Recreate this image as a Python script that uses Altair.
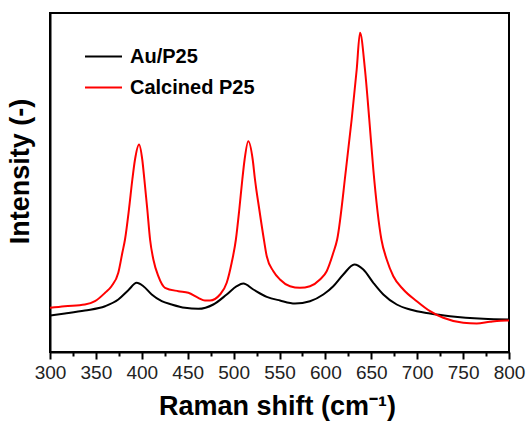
import altair as alt
import pandas as pd

# Au/P25 (black) -- intensity in arbitrary units
au_x = [300, 316.3, 338, 360, 374.4, 385.3, 394.4, 401.7, 410.8, 421.7, 432.6, 447, 461.5, 477.9,
        492.5, 503.4, 510.6, 521.5, 536.1, 550.5, 566.9, 583.2, 597.7, 608.6, 619.5, 631.5, 641.3,
        652.2, 663.1, 677.7, 692.2, 714, 735.7, 772, 800]
au_y = [36.5, 38.5, 41.5, 45.8, 52.5, 61.8, 69.2, 65.8, 57.5, 50.8, 47.5, 44.2, 43.2, 47.5,
        57.5, 65.8, 68.5, 62.5, 55.2, 51.5, 48.5, 50.8, 57.5, 65.8, 77.5, 87.5, 82.5,
        69.2, 57.5, 47.5, 42.5, 38.5, 35.8, 33.2, 32.5]

# Calcined P25 (red)
p25_x = [300, 316, 338, 349, 360, 367, 374.4, 378.8, 381.7, 386, 389.7, 392.6, 397, 400.5, 402.8,
         406, 409, 412.6, 418, 425.3, 439.8, 450.7, 461.5, 468.8, 474.3, 485.2, 492.5, 497.9, 502.5,
         506.2, 509.5, 512, 516, 520.8, 523.3, 528, 533, 536.1, 543.3, 550.5, 561.4, 572.3, 583.2,
         594.1, 601.4, 608.6, 612.8, 622.4, 628.6, 634.1, 637.7, 643.1, 647.8, 652.2, 661, 666.8,
         674, 684.9, 699.5, 714, 728.4, 750.2, 764.8, 779.3, 797.5, 800]
p25_y = [44.2, 45.8, 47.5, 50.8, 59.2, 65.8, 79.2, 99.2, 112.5, 142.5, 172.5, 192.5, 207.5, 192.5, 172.5,
         142.5, 112.5, 92.5, 75.8, 64.2, 60.8, 59.2, 54.2, 51.5, 51.5, 57.5, 69.2, 89.2, 112.5,
         142.5, 172.5, 192.5, 210.8, 192.5, 172.5, 142.5, 112.5, 95.8, 80.8, 72.5, 65.8, 64.2, 65.8,
         72.5, 80.8, 99.2, 112.5, 182.5, 232.5, 282.5, 319.2, 282.5, 232.5, 182.5, 112.5, 92.5,
         75.8, 62.5, 50.8, 40.8, 34.2, 29.2, 28.5, 30.2, 31.5, 31.5]

series_names = ["Au/P25", "Calcined P25"]
series_colors = ["#000000", "#ff0000"]
x_ticks = list(range(300, 801, 25))

df = pd.concat([
    pd.DataFrame({"shift": au_x, "intensity": au_y, "sample": series_names[0], "order": 0}),
    pd.DataFrame({"shift": p25_x, "intensity": p25_y, "sample": series_names[1], "order": 1}),
])

FONT = "Liberation Sans"

chart = alt.Chart(df).mark_line(strokeWidth=2, interpolate="monotone").encode(
    x=alt.X("shift:Q",
            scale=alt.Scale(domain=[300, 800], nice=False, zero=False),
            axis=alt.Axis(
                values=x_ticks,
                labelExpr="datum.value % 50 === 0 ? datum.label : ''",
                tickSize={"condition": {"test": "datum.value % 50 === 0", "value": 7}, "value": 4},
                tickWidth=2, tickColor="black",
                domainColor="black", domainWidth=2,
                labelFont=FONT, labelFontSize=19, labelColor="#222222",
                labelPadding=4, labelFlush=False, labelOverlap=False,
                grid=False,
                title="Raman shift (cm⁻¹)",
                titleFont=FONT, titleFontSize=27, titleFontWeight="bold", titleColor="black",
                titleBaseline="alphabetic", titleY=62, titleX=227, titleAlign="center",
            )),
    y=alt.Y("intensity:Q",
            scale=alt.Scale(domain=[0, 339], nice=False, zero=False),
            axis=alt.Axis(
                labels=False, ticks=False, grid=False,
                domainColor="black", domainWidth=2,
                title="Intensity (-)",
                titleFont=FONT, titleFontSize=27, titleFontWeight="bold", titleColor="black",
                titleAngle=-90, titleBaseline="alphabetic", titleAlign="center",
                titleX=-21.5, titleY=158,
            )),
    color=alt.Color("sample:N",
                    scale=alt.Scale(domain=series_names, range=series_colors),
                    legend=alt.Legend(
                        orient="none", legendX=34, legendY=24, title=None,
                        symbolType="stroke", symbolSize=1369, symbolStrokeWidth=2,
                        labelFont=FONT, labelFontSize=20, labelFontWeight="bold",
                        labelColor="black", labelOffset=7, rowPadding=1,
                    )),
    order=alt.Order("order:Q"),
).properties(
    width=459, height=339,
    autosize=alt.AutoSizeParams(type="none"),
    padding={"left": 50, "top": 13, "right": 19, "bottom": 73},
).configure_view(stroke="black", strokeWidth=2)

chart.save("out.html", embed_options={"renderer": "svg", "actions": False})
